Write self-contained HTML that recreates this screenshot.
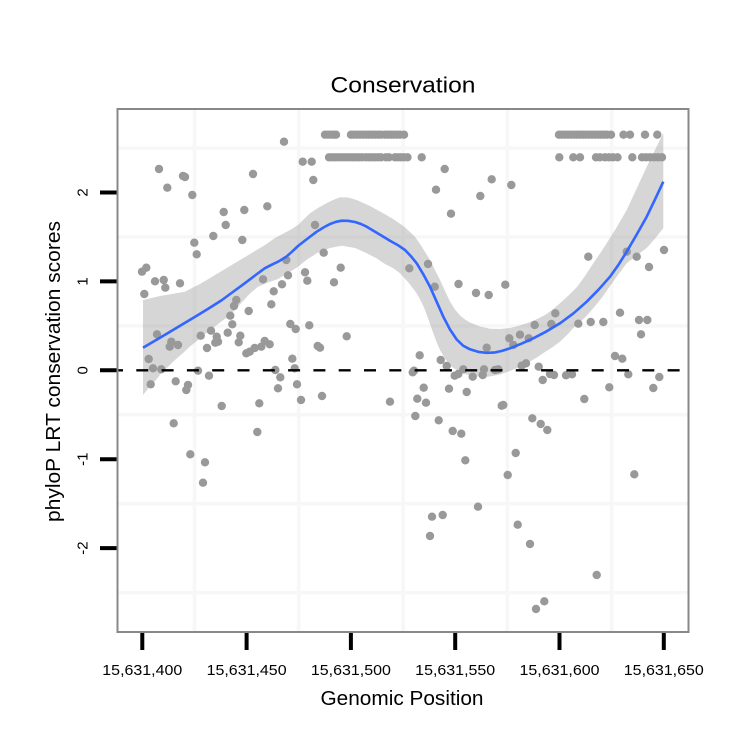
<!DOCTYPE html>
<html><head><meta charset="utf-8"><style>
html,body{margin:0;padding:0;background:#fff;}
svg{display:block;}
text{font-family:"Liberation Sans",Arial,sans-serif;fill:#000;}
</style></head><body>
<svg width="750" height="750" viewBox="0 0 750 750" xmlns="http://www.w3.org/2000/svg">
<rect x="0" y="0" width="750" height="750" fill="#fff"/>
<!-- gridlines -->
<g stroke="#f7f7f7" stroke-width="3.5">
<line x1="194.5" y1="110" x2="194.5" y2="631"/>
<line x1="298.8" y1="110" x2="298.8" y2="631"/>
<line x1="403.1" y1="110" x2="403.1" y2="631"/>
<line x1="507.4" y1="110" x2="507.4" y2="631"/>
<line x1="611.7" y1="110" x2="611.7" y2="631"/>
<line x1="118" y1="148.1" x2="688" y2="148.1"/>
<line x1="118" y1="237" x2="688" y2="237"/>
<line x1="118" y1="325.9" x2="688" y2="325.9"/>
<line x1="118" y1="414.8" x2="688" y2="414.8"/>
<line x1="118" y1="503.7" x2="688" y2="503.7"/>
<line x1="118" y1="592.6" x2="688" y2="592.6"/>
</g>
<!-- points -->
<g fill="#999">
<circle cx="284" cy="141.7" r="4.2"/><circle cx="159" cy="169" r="4.2"/><circle cx="183" cy="176" r="4.2"/><circle cx="185" cy="177" r="4.2"/>
<circle cx="167.3" cy="187.7" r="4.2"/><circle cx="253" cy="174" r="4.2"/><circle cx="192.3" cy="195" r="4.2"/><circle cx="223.7" cy="212" r="4.2"/>
<circle cx="244.3" cy="210" r="4.2"/><circle cx="267.3" cy="206.3" r="4.2"/><circle cx="225.7" cy="225" r="4.2"/><circle cx="213.3" cy="236" r="4.2"/>
<circle cx="242.3" cy="240" r="4.2"/><circle cx="194.3" cy="242.7" r="4.2"/><circle cx="196.7" cy="254.3" r="4.2"/><circle cx="142" cy="271.7" r="4.2"/>
<circle cx="146.3" cy="267.7" r="4.2"/><circle cx="155" cy="281.3" r="4.2"/><circle cx="163.7" cy="280" r="4.2"/><circle cx="165.3" cy="287.7" r="4.2"/>
<circle cx="180" cy="283.3" r="4.2"/><circle cx="144.3" cy="294" r="4.2"/><circle cx="286.3" cy="260" r="4.2"/><circle cx="263" cy="279.3" r="4.2"/>
<circle cx="288" cy="275.3" r="4.2"/><circle cx="282" cy="284.3" r="4.2"/><circle cx="273.7" cy="291.3" r="4.2"/><circle cx="271.3" cy="304.3" r="4.2"/>
<circle cx="236.3" cy="300" r="4.2"/><circle cx="234" cy="306" r="4.2"/><circle cx="248.7" cy="311" r="4.2"/><circle cx="230.3" cy="315.7" r="4.2"/>
<circle cx="232.3" cy="324.3" r="4.2"/><circle cx="227.7" cy="332.7" r="4.2"/><circle cx="290.3" cy="324" r="4.2"/><circle cx="295.7" cy="329" r="4.2"/>
<circle cx="157" cy="334.3" r="4.2"/><circle cx="200.7" cy="335.7" r="4.2"/><circle cx="211" cy="330.7" r="4.2"/><circle cx="216.7" cy="336.7" r="4.2"/>
<circle cx="218" cy="341.7" r="4.2"/><circle cx="215.3" cy="342.7" r="4.2"/><circle cx="171.3" cy="341.7" r="4.2"/><circle cx="169.7" cy="346.7" r="4.2"/>
<circle cx="178" cy="345" r="4.2"/><circle cx="240.3" cy="335.7" r="4.2"/><circle cx="238.7" cy="342.3" r="4.2"/><circle cx="207" cy="348" r="4.2"/>
<circle cx="264.7" cy="341" r="4.2"/><circle cx="269.7" cy="344.3" r="4.2"/><circle cx="261.3" cy="346.7" r="4.2"/><circle cx="254.7" cy="348" r="4.2"/>
<circle cx="249.7" cy="351.7" r="4.2"/><circle cx="246.3" cy="353.3" r="4.2"/><circle cx="148.7" cy="359" r="4.2"/><circle cx="153" cy="368.3" r="4.2"/>
<circle cx="161.3" cy="369.3" r="4.2"/><circle cx="198" cy="370.7" r="4.2"/><circle cx="209" cy="375.7" r="4.2"/><circle cx="150.7" cy="384.3" r="4.2"/>
<circle cx="175.7" cy="381.3" r="4.2"/><circle cx="188" cy="385" r="4.2"/><circle cx="186.3" cy="390" r="4.2"/><circle cx="292.3" cy="358.7" r="4.2"/>
<circle cx="294.7" cy="368.3" r="4.2"/><circle cx="275.3" cy="370" r="4.2"/><circle cx="280.3" cy="377.3" r="4.2"/><circle cx="278" cy="388.3" r="4.2"/>
<circle cx="297" cy="384.3" r="4.2"/><circle cx="221.7" cy="406" r="4.2"/><circle cx="259.3" cy="403.3" r="4.2"/><circle cx="173.7" cy="423.3" r="4.2"/>
<circle cx="257.3" cy="432" r="4.2"/><circle cx="190.3" cy="454.3" r="4.2"/><circle cx="205" cy="462.3" r="4.2"/><circle cx="203" cy="482.7" r="4.2"/>

<circle cx="302.7" cy="161.7" r="4.2"/><circle cx="311.7" cy="161.7" r="4.2"/><circle cx="313.3" cy="180" r="4.2"/><circle cx="315" cy="225" r="4.2"/>
<circle cx="323.7" cy="252.7" r="4.2"/><circle cx="340.7" cy="267.7" r="4.2"/><circle cx="305" cy="272.3" r="4.2"/><circle cx="307.3" cy="280.7" r="4.2"/>
<circle cx="334" cy="282.3" r="4.2"/><circle cx="309.3" cy="325.3" r="4.2"/><circle cx="346.7" cy="336.3" r="4.2"/><circle cx="317.7" cy="346" r="4.2"/>
<circle cx="320" cy="347.7" r="4.2"/><circle cx="301" cy="400" r="4.2"/><circle cx="322" cy="396" r="4.2"/><circle cx="390" cy="401.7" r="4.2"/>
<circle cx="419.7" cy="355.3" r="4.2"/><circle cx="412.7" cy="372.3" r="4.2"/><circle cx="414" cy="370.7" r="4.2"/><circle cx="423.7" cy="387.7" r="4.2"/>
<circle cx="417.3" cy="398.7" r="4.2"/><circle cx="426" cy="402.7" r="4.2"/><circle cx="415.3" cy="416" r="4.2"/><circle cx="440.7" cy="360" r="4.2"/>
<circle cx="446.7" cy="366" r="4.2"/><circle cx="454.7" cy="375.7" r="4.2"/><circle cx="458.3" cy="374" r="4.2"/><circle cx="463.3" cy="369.3" r="4.2"/>
<circle cx="449" cy="388.7" r="4.2"/><circle cx="466.7" cy="392" r="4.2"/><circle cx="438.7" cy="420.3" r="4.2"/><circle cx="452.7" cy="431" r="4.2"/>
<circle cx="461.3" cy="433.7" r="4.2"/><circle cx="465.3" cy="460.3" r="4.2"/><circle cx="444.7" cy="169" r="4.2"/><circle cx="436" cy="189.7" r="4.2"/>
<circle cx="451" cy="213.7" r="4.2"/><circle cx="409.3" cy="268.3" r="4.2"/><circle cx="428" cy="264" r="4.2"/><circle cx="434.7" cy="286.7" r="4.2"/>
<circle cx="458.5" cy="284" r="4.2"/><circle cx="421.7" cy="157.3" r="4.2"/>

<circle cx="491.7" cy="179.3" r="4.2"/><circle cx="480.3" cy="196" r="4.2"/><circle cx="511.3" cy="185" r="4.2"/><circle cx="588.3" cy="256.7" r="4.2"/>
<circle cx="626.7" cy="251.7" r="4.2"/><circle cx="636.7" cy="256.7" r="4.2"/><circle cx="649" cy="267" r="4.2"/><circle cx="664" cy="250" r="4.2"/>
<circle cx="476" cy="293" r="4.2"/><circle cx="488.7" cy="295" r="4.2"/><circle cx="505.3" cy="284.7" r="4.2"/><circle cx="555.3" cy="313.3" r="4.2"/>
<circle cx="534.7" cy="325" r="4.2"/><circle cx="551.3" cy="324" r="4.2"/><circle cx="578.3" cy="323.7" r="4.2"/><circle cx="590.7" cy="322" r="4.2"/>
<circle cx="603.3" cy="322" r="4.2"/><circle cx="620" cy="312.7" r="4.2"/><circle cx="639" cy="320" r="4.2"/><circle cx="647.3" cy="320" r="4.2"/>
<circle cx="641" cy="334.3" r="4.2"/><circle cx="509.3" cy="338.3" r="4.2"/><circle cx="520" cy="334.7" r="4.2"/><circle cx="528.7" cy="338.3" r="4.2"/>
<circle cx="513.3" cy="345" r="4.2"/><circle cx="486.7" cy="347.7" r="4.2"/><circle cx="615" cy="356" r="4.2"/><circle cx="622.3" cy="358.7" r="4.2"/>
<circle cx="472.7" cy="376.7" r="4.2"/><circle cx="482.7" cy="375" r="4.2"/><circle cx="484" cy="369.3" r="4.2"/><circle cx="498.3" cy="369.3" r="4.2"/>
<circle cx="495" cy="370" r="4.2"/><circle cx="521.7" cy="365.7" r="4.2"/><circle cx="526" cy="363.3" r="4.2"/><circle cx="538.7" cy="366.7" r="4.2"/>
<circle cx="542.7" cy="380" r="4.2"/><circle cx="550" cy="374" r="4.2"/><circle cx="554" cy="375" r="4.2"/><circle cx="566" cy="375.3" r="4.2"/>
<circle cx="572" cy="374.3" r="4.2"/><circle cx="628.3" cy="374.3" r="4.2"/><circle cx="659.3" cy="377" r="4.2"/><circle cx="653.3" cy="388" r="4.2"/>
<circle cx="609.3" cy="387.3" r="4.2"/><circle cx="584.3" cy="399" r="4.2"/><circle cx="501.7" cy="405.7" r="4.2"/><circle cx="503.3" cy="405" r="4.2"/>
<circle cx="532.3" cy="418.3" r="4.2"/><circle cx="540.7" cy="424" r="4.2"/><circle cx="547.3" cy="430" r="4.2"/><circle cx="515.7" cy="453" r="4.2"/>
<circle cx="507.7" cy="475" r="4.2"/><circle cx="634.3" cy="474.3" r="4.2"/>

<circle cx="432" cy="516.7" r="4.2"/><circle cx="442.7" cy="515" r="4.2"/><circle cx="430" cy="536" r="4.2"/><circle cx="478" cy="506.7" r="4.2"/>
<circle cx="517.7" cy="524.7" r="4.2"/><circle cx="530" cy="544" r="4.2"/><circle cx="596.7" cy="575" r="4.2"/><circle cx="544.3" cy="601.3" r="4.2"/>
<circle cx="536" cy="609" r="4.2"/>

<!-- top row y=2.65 -->
<circle cx="325" cy="134.7" r="4.2"/><circle cx="328" cy="134.7" r="4.2"/><circle cx="331" cy="134.7" r="4.2"/><circle cx="334" cy="134.7" r="4.2"/><circle cx="336" cy="134.7" r="4.2"/>
<circle cx="351" cy="134.7" r="4.2"/><circle cx="354" cy="134.7" r="4.2"/><circle cx="357" cy="134.7" r="4.2"/><circle cx="360" cy="134.7" r="4.2"/><circle cx="363" cy="134.7" r="4.2"/>
<circle cx="366" cy="134.7" r="4.2"/><circle cx="369" cy="134.7" r="4.2"/><circle cx="372" cy="134.7" r="4.2"/><circle cx="375" cy="134.7" r="4.2"/><circle cx="378" cy="134.7" r="4.2"/>
<circle cx="381" cy="134.7" r="4.2"/><circle cx="385" cy="134.7" r="4.2"/><circle cx="388" cy="134.7" r="4.2"/><circle cx="391" cy="134.7" r="4.2"/><circle cx="394" cy="134.7" r="4.2"/>
<circle cx="397" cy="134.7" r="4.2"/><circle cx="400" cy="134.7" r="4.2"/><circle cx="404" cy="134.7" r="4.2"/>
<circle cx="559" cy="134.7" r="4.2"/><circle cx="562" cy="134.7" r="4.2"/><circle cx="565" cy="134.7" r="4.2"/><circle cx="568" cy="134.7" r="4.2"/><circle cx="571" cy="134.7" r="4.2"/>
<circle cx="574" cy="134.7" r="4.2"/><circle cx="577" cy="134.7" r="4.2"/><circle cx="580" cy="134.7" r="4.2"/><circle cx="583" cy="134.7" r="4.2"/><circle cx="586" cy="134.7" r="4.2"/>
<circle cx="589" cy="134.7" r="4.2"/><circle cx="592" cy="134.7" r="4.2"/><circle cx="595" cy="134.7" r="4.2"/><circle cx="598" cy="134.7" r="4.2"/><circle cx="601" cy="134.7" r="4.2"/>
<circle cx="604" cy="134.7" r="4.2"/><circle cx="607" cy="134.7" r="4.2"/><circle cx="611" cy="134.7" r="4.2"/>
<circle cx="623.5" cy="134.7" r="4.2"/><circle cx="630" cy="134.7" r="4.2"/><circle cx="645" cy="134.7" r="4.2"/><circle cx="657.3" cy="134.7" r="4.2"/>
<!-- second row y=2.4 -->
<circle cx="329" cy="157.3" r="4.2"/><circle cx="332" cy="157.3" r="4.2"/><circle cx="335" cy="157.3" r="4.2"/><circle cx="338" cy="157.3" r="4.2"/><circle cx="341" cy="157.3" r="4.2"/>
<circle cx="344" cy="157.3" r="4.2"/><circle cx="347" cy="157.3" r="4.2"/><circle cx="350" cy="157.3" r="4.2"/><circle cx="353" cy="157.3" r="4.2"/><circle cx="356" cy="157.3" r="4.2"/>
<circle cx="359" cy="157.3" r="4.2"/><circle cx="362" cy="157.3" r="4.2"/><circle cx="366" cy="157.3" r="4.2"/><circle cx="369" cy="157.3" r="4.2"/><circle cx="372" cy="157.3" r="4.2"/>
<circle cx="375" cy="157.3" r="4.2"/><circle cx="378" cy="157.3" r="4.2"/><circle cx="381" cy="157.3" r="4.2"/><circle cx="386" cy="157.3" r="4.2"/><circle cx="389" cy="157.3" r="4.2"/>
<circle cx="395" cy="157.3" r="4.2"/><circle cx="398" cy="157.3" r="4.2"/><circle cx="401" cy="157.3" r="4.2"/><circle cx="404" cy="157.3" r="4.2"/><circle cx="407.5" cy="157.3" r="4.2"/>
<circle cx="559.3" cy="157.3" r="4.2"/><circle cx="573.3" cy="157.3" r="4.2"/><circle cx="580" cy="157.3" r="4.2"/>
<circle cx="596" cy="157.3" r="4.2"/><circle cx="600" cy="157.3" r="4.2"/><circle cx="605" cy="157.3" r="4.2"/><circle cx="609" cy="157.3" r="4.2"/><circle cx="613" cy="157.3" r="4.2"/><circle cx="617.5" cy="157.3" r="4.2"/>
<circle cx="632.3" cy="157.3" r="4.2"/><circle cx="642" cy="157.3" r="4.2"/><circle cx="646" cy="157.3" r="4.2"/><circle cx="650" cy="157.3" r="4.2"/><circle cx="654" cy="157.3" r="4.2"/><circle cx="658" cy="157.3" r="4.2"/><circle cx="662" cy="157.3" r="4.2"/>
</g>
<!-- confidence band -->
<polygon fill="rgba(153,153,153,0.4)" stroke="none" points="143,300 160,296 172,294 184.7,291.7 200,284 218,273.3 235,263 251.3,253.3 265,245 275,238 290,230 298,225 304,219 310,213.3 318,208 325,204 333,200 340,197.3 348,197.5 356.7,200 370,206 383.3,213.3 393,219 403.3,226 409,231 415,236.7 422,247 430,260 435,270 440,280 445,291 450,301.5 455,309.5 460,315.5 465,319.5 470,322.5 480,326.5 490,328.8 500,329 510,328 518,326 526.7,323.3 535,320 545,315 552,310 560,303.3 569,295 577,287 585,276 593.3,263.3 602,250.5 610,238 618,225 626.7,210 636,190 646.7,166.7 655,150 663.3,133.3 663.3,228.3 655,238.5 646.7,248 636,256 626.7,263.3 618,275 610,286 602,297.5 593.3,308.3 585,317.5 575,326 568,334 560,341.7 552,347.5 545,352 536,358 526.7,363.3 518,367.5 510,371 500,374.5 490,376.5 480,376.8 470,375.5 465,374 460,371.5 455,369 450,365.5 445,358.5 440,350 436.5,342 433.3,333.3 429,321 425,310 421,301 416.7,293.3 408,282 400,273.3 393,268 385,264 376,258 366.7,253.3 355,248 341.7,245.7 330,248 316.7,253.3 307,259.5 298,266.7 290,271.7 278,279 268,282.5 258,286.7 250,293.5 243,301 236,309 228,316.7 220,322.5 213,328 205,334 198,340 190,346.5 183,353 175,360 168,366.7 161,373.5 155,381 149,387.5 143,395"/>
<!-- smooth line -->
<polyline fill="none" stroke="#3366FF" stroke-width="2.6" stroke-linejoin="round" stroke-linecap="butt" points="143,347.7 155.5,340.4 168,333 183,324 198,315 210,307.6 222,300 233.5,291.5 244.7,283.3 255,275.5 264.7,268.3 271.5,264.8 278,261.7 286.3,256.7 292,251.7 298,246 307.5,238.6 316.7,231.7 323.5,227.5 330,224 336,221.8 341.7,220.7 348,220.8 355,222 361,224 366.7,226.7 378,233.5 390,240.7 398,245.2 405,250 411,256.3 416.7,263.3 423.3,274.3 430,286.7 436.7,301.8 443.3,316.7 450,329.5 456.7,339.5 463,345.6 470,349.3 478,351.8 486,352.8 494,352.6 502,350.9 510,348.3 521.7,343.6 533.3,338.3 546.7,331.3 560,323.3 573.5,313.3 586.7,301.7 598.5,289.7 610,276.7 618.5,264.7 626.7,251.7 636.7,234.5 646.7,216.7 655,199.4 663.3,181.7"/>
<!-- dashed zero line -->
<line x1="118" y1="370.3" x2="688" y2="370.3" stroke="#000" stroke-width="2.4" stroke-dasharray="12 13.3" stroke-dashoffset="7"/>
<!-- panel border -->
<rect x="117.5" y="109" width="571" height="523" fill="none" stroke="#888" stroke-width="2"/>
<!-- ticks -->
<g stroke="#000" stroke-width="4">
<line x1="142.3" y1="633" x2="142.3" y2="650"/>
<line x1="246.6" y1="633" x2="246.6" y2="650"/>
<line x1="350.9" y1="633" x2="350.9" y2="650"/>
<line x1="455.2" y1="633" x2="455.2" y2="650"/>
<line x1="559.5" y1="633" x2="559.5" y2="650"/>
<line x1="663.8" y1="633" x2="663.8" y2="650"/>
<line x1="100" y1="192.5" x2="116.5" y2="192.5"/>
<line x1="100" y1="281.4" x2="116.5" y2="281.4"/>
<line x1="100" y1="370.3" x2="116.5" y2="370.3"/>
<line x1="100" y1="459.2" x2="116.5" y2="459.2"/>
<line x1="100" y1="548.1" x2="116.5" y2="548.1"/>
</g>
<!-- x tick labels -->
<g font-size="14.5" text-anchor="middle">
<text x="142.3" y="675" textLength="80" lengthAdjust="spacingAndGlyphs">15,631,400</text>
<text x="246.6" y="675" textLength="80" lengthAdjust="spacingAndGlyphs">15,631,450</text>
<text x="350.9" y="675" textLength="80" lengthAdjust="spacingAndGlyphs">15,631,500</text>
<text x="455.2" y="675" textLength="80" lengthAdjust="spacingAndGlyphs">15,631,550</text>
<text x="559.5" y="675" textLength="80" lengthAdjust="spacingAndGlyphs">15,631,600</text>
<text x="663.8" y="675" textLength="80" lengthAdjust="spacingAndGlyphs">15,631,650</text>
</g>
<!-- y tick labels -->
<g font-size="15" text-anchor="middle">
<text transform="translate(87.5,192.5) rotate(-90)">2</text>
<text transform="translate(87.5,281.4) rotate(-90)">1</text>
<text transform="translate(87.5,370.3) rotate(-90)">0</text>
<text transform="translate(87.5,459.2) rotate(-90)">-1</text>
<text transform="translate(87.5,548.1) rotate(-90)">-2</text>
</g>
<!-- titles -->
<text x="403" y="92.3" font-size="22" text-anchor="middle" textLength="145" lengthAdjust="spacingAndGlyphs">Conservation</text>
<text x="402" y="705" font-size="20" text-anchor="middle" textLength="163" lengthAdjust="spacingAndGlyphs">Genomic Position</text>
<text transform="translate(60,371.5) rotate(-90)" font-size="20" text-anchor="middle" textLength="301" lengthAdjust="spacingAndGlyphs">phyloP LRT conservation scores</text>
</svg>
</body></html>
